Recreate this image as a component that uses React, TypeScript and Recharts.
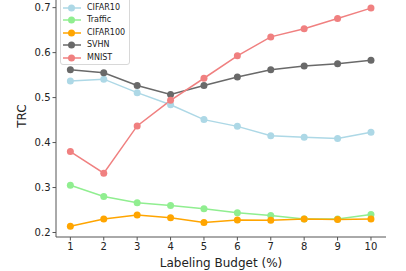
import React from 'react';
import { LineChart, Line, XAxis, YAxis, Label } from 'recharts';

const budgets = [1, 2, 3, 4, 5, 6, 7, 8, 9, 10];
const cifar10 = [0.537, 0.541, 0.511, 0.484, 0.451, 0.436, 0.415, 0.412, 0.409, 0.423];
const traffic = [0.305, 0.28, 0.266, 0.26, 0.253, 0.244, 0.238, 0.23, 0.23, 0.24];
const cifar100 = [0.214, 0.23, 0.239, 0.233, 0.222, 0.228, 0.227, 0.23, 0.229, 0.23];
const svhn = [0.562, 0.555, 0.527, 0.507, 0.527, 0.546, 0.562, 0.57, 0.575, 0.583];
const mnist = [0.38, 0.332, 0.437, 0.494, 0.543, 0.593, 0.635, 0.653, 0.676, 0.699];
const yTicks = [0.2, 0.3, 0.4, 0.5, 0.6, 0.7];

const series = [
  { key: 'CIFAR10', values: cifar10, color: '#add8e6' },
  { key: 'Traffic', values: traffic, color: '#90ee90' },
  { key: 'CIFAR100', values: cifar100, color: '#ffa500' },
  { key: 'SVHN', values: svhn, color: '#696969' },
  { key: 'MNIST', values: mnist, color: '#f08080' },
];

const data = budgets.map((b, i) => {
  const row: Record<string, number> = { budget: b };
  series.forEach((s) => (row[s.key] = s.values[i]));
  return row;
});

const font = 'DejaVu Sans, sans-serif';
const axisColor = '#555';

const App: React.FC = () => {
  return (
    <div style={{ position: 'absolute', left: 0, top: 0, width: 406, height: 271, background: '#fff', fontFamily: font }}>
      <LineChart width={406} height={271} data={data} margin={{ top: 0, right: 20, bottom: 0, left: 0 }}>
        <XAxis
          dataKey="budget"
          type="number"
          domain={[0.57, 10.45]}
          ticks={budgets}
          allowDataOverflow
          height={34}
          stroke={axisColor}
          tickSize={3.5}
          tick={{ fill: '#222', fontSize: 10, fontFamily: font }}
        >
          <Label value="Labeling Budget (%)" position="insideBottom" offset={4} fill="#222" fontSize={12} fontFamily={font} />
        </XAxis>
        <YAxis
          type="number"
          domain={[0.19, 0.717]}
          ticks={yTicks}
          allowDataOverflow
          width={56}
          stroke={axisColor}
          tickSize={3.5}
          tickFormatter={(v: number) => v.toFixed(1)}
          tick={{ fill: '#222', fontSize: 10, fontFamily: font }}
        >
          <Label
            value="TRC"
            content={() => (
              <text
                x={22}
                y={116}
                transform="rotate(-90 22 116)"
                textAnchor="middle"
                dominantBaseline="central"
                fill="#222"
                fontSize={12}
                fontFamily={font}
              >
                TRC
              </text>
            )}
          />
        </YAxis>
        <YAxis yAxisId="right" orientation="right" width={0} stroke={axisColor} tick={false} tickLine={false} />
        {series.map((s) => (
          <Line
            key={s.key}
            dataKey={s.key}
            stroke={s.color}
            strokeWidth={1.5}
            dot={{ r: 3.5, fill: s.color, stroke: s.color, strokeWidth: 0 }}
            activeDot={false}
            isAnimationActive={false}
          />
        ))}
      </LineChart>
      <div
        style={{
          position: 'absolute',
          left: 60,
          top: -4,
          width: 70,
          height: 69,
          border: '1px solid #d8d8d8',
          borderRadius: 3,
          background: 'rgba(255,255,255,0.8)',
          boxSizing: 'border-box',
        }}
      >
        {series.map((s, i) => (
          <div key={s.key} style={{ position: 'absolute', left: 0, top: 5 + i * 12.4, height: 12, display: 'flex', alignItems: 'center' }}>
            <svg width={26} height={12} style={{ display: 'block' }}>
              <line x1={2} y1={6} x2={20} y2={6} stroke={s.color} strokeWidth={1.5} />
              <circle cx={10.5} cy={6} r={3.5} fill={s.color} />
            </svg>
            <span style={{ fontSize: 8, color: '#222', fontFamily: font, lineHeight: '12px' }}>{s.key}</span>
          </div>
        ))}
      </div>
    </div>
  );
};

export default App;
